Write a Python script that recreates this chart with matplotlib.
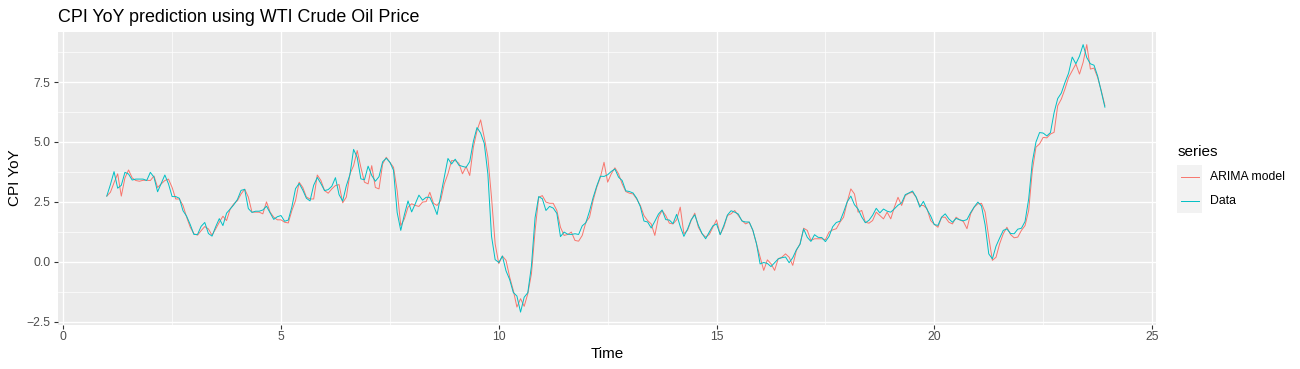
import numpy as np
import matplotlib
matplotlib.use("Agg")
import matplotlib.pyplot as plt
from matplotlib.lines import Line2D
from matplotlib.patches import Rectangle

# ---- data: monthly US CPI YoY (%), Jan 2000 .. Dec 2022, time axis 1..23.92 ----
cpi_data = [
    2.74, 3.22, 3.76, 3.07, 3.19, 3.73, 3.66, 3.41, 3.45, 3.45, 3.45, 3.39,
    3.73, 3.53, 2.92, 3.27, 3.62, 3.25, 2.72, 2.72, 2.65, 2.13, 1.90, 1.55,
    1.14, 1.14, 1.48, 1.64, 1.18, 1.07, 1.46, 1.80, 1.51, 2.03, 2.20, 2.38,
    2.60, 2.98, 3.02, 2.22, 2.06, 2.11, 2.11, 2.16, 2.32, 2.04, 1.77, 1.88,
    1.93, 1.69, 1.74, 2.29, 3.05, 3.27, 2.99, 2.65, 2.54, 3.19, 3.52, 3.26,
    2.97, 3.01, 3.15, 3.51, 2.80, 2.53, 3.17, 3.64, 4.69, 4.35, 3.46, 3.42,
    3.99, 3.60, 3.36, 3.55, 4.17, 4.32, 4.15, 3.82, 2.06, 1.31, 1.97, 2.54,
    2.08, 2.42, 2.78, 2.57, 2.69, 2.69, 2.36, 1.97, 2.76, 3.54, 4.31, 4.08,
    4.28, 4.03, 3.98, 3.94, 4.18, 5.02, 5.60, 5.37, 4.94, 3.66, 1.07, 0.09,
    -0.03, 0.24, -0.38, -0.74, -1.28, -1.43, -2.10, -1.48, -1.29, -0.18, 1.84, 2.72,
    2.63, 2.14, 2.31, 2.24, 2.02, 1.05, 1.24, 1.15, 1.14, 1.17, 1.14, 1.50,
    1.63, 2.11, 2.68, 3.16, 3.57, 3.56, 3.63, 3.77, 3.87, 3.53, 3.39, 2.96,
    2.93, 2.87, 2.65, 2.30, 1.70, 1.66, 1.41, 1.69, 1.99, 2.16, 1.76, 1.74,
    1.59, 1.98, 1.47, 1.06, 1.36, 1.75, 1.96, 1.52, 1.18, 0.96, 1.24, 1.50,
    1.58, 1.13, 1.51, 1.95, 2.13, 2.07, 1.99, 1.70, 1.66, 1.66, 1.32, 0.76,
    -0.09, -0.03, -0.07, -0.20, -0.04, 0.12, 0.17, 0.20, -0.04, 0.17, 0.50, 0.73,
    1.37, 1.02, 0.85, 1.13, 1.02, 1.01, 0.84, 1.06, 1.46, 1.64, 1.69, 2.07,
    2.50, 2.74, 2.38, 2.20, 1.87, 1.63, 1.73, 1.94, 2.23, 2.04, 2.20, 2.11,
    2.07, 2.21, 2.36, 2.46, 2.80, 2.87, 2.95, 2.70, 2.28, 2.52, 2.18, 1.91,
    1.55, 1.52, 1.86, 2.00, 1.79, 1.65, 1.81, 1.75, 1.71, 1.76, 2.05, 2.29,
    2.49, 2.33, 1.54, 0.33, 0.12, 0.65, 0.99, 1.31, 1.37, 1.18, 1.17, 1.36,
    1.40, 1.68, 2.62, 4.16, 4.99, 5.39, 5.37, 5.25, 5.39, 6.22, 6.81, 7.04,
    7.48, 7.87, 8.54, 8.26, 8.58, 9.06, 8.52, 8.26, 8.20, 7.75, 7.11, 6.45,
]

arima_fit = [
    2.74, 2.90, 3.30, 3.67, 2.74, 3.50, 3.83, 3.50, 3.39, 3.36, 3.40, 3.40,
    3.39, 3.58, 3.10, 3.25, 3.39, 3.45, 3.10, 2.62, 2.62, 2.35, 1.86, 1.44,
    1.17, 1.11, 1.30, 1.47, 1.37, 1.11, 1.37, 1.65, 1.90, 1.72, 2.20, 2.42,
    2.55, 2.83, 3.03, 2.70, 2.07, 2.07, 2.07, 2.00, 2.50, 2.07, 1.86, 1.75,
    1.75, 1.65, 1.62, 2.14, 2.55, 3.32, 3.10, 2.70, 2.62, 2.62, 3.62, 3.39,
    2.97, 2.86, 3.04, 3.18, 3.22, 2.46, 2.70, 3.67, 4.01, 4.64, 3.94, 3.32,
    3.25, 4.01, 3.10, 3.04, 4.08, 4.36, 4.15, 3.94, 2.97, 1.51, 1.79, 2.28,
    2.42, 2.35, 2.31, 2.49, 2.51, 2.90, 2.44, 2.35, 2.56, 3.25, 3.67, 4.22,
    4.22, 4.11, 3.67, 3.97, 3.60, 4.78, 5.47, 5.92, 5.19, 4.36, 2.69, 0.75,
    -0.08, 0.24, 0.06, -0.64, -1.19, -1.89, -1.54, -1.86, -1.33, -0.50, 1.30, 2.69,
    2.76, 2.49, 2.44, 2.44, 2.14, 1.44, 1.10, 1.14, 1.24, 0.89, 0.86, 1.10,
    1.65, 1.86, 2.56, 3.11, 3.53, 4.15, 3.32, 3.67, 3.92, 3.67, 3.25, 2.93,
    2.86, 2.83, 2.62, 2.35, 1.93, 1.72, 1.58, 1.10, 1.86, 2.14, 1.93, 1.61,
    1.58, 1.75, 2.28, 1.17, 1.31, 1.72, 2.03, 1.44, 1.17, 1.03, 1.14, 1.44,
    1.75, 1.14, 1.44, 1.93, 2.00, 2.14, 1.93, 1.72, 1.58, 1.65, 1.31, 0.75,
    0.19, -0.36, 0.08, -0.08, -0.36, 0.13, 0.19, 0.33, 0.19, -0.15, 0.47, 0.75,
    1.40, 1.31, 0.89, 0.96, 0.96, 0.96, 0.92, 1.24, 1.33, 1.38, 1.65, 1.86,
    2.49, 3.04, 2.83, 2.07, 2.14, 1.65, 1.61, 1.72, 2.07, 1.93, 1.79, 2.07,
    1.79, 2.28, 2.69, 2.35, 2.76, 2.86, 2.90, 2.69, 2.35, 2.35, 2.21, 1.72,
    1.56, 1.44, 1.86, 1.86, 1.65, 1.58, 1.86, 1.75, 1.68, 1.38, 2.00, 2.28,
    2.42, 2.44, 2.07, 1.03, 0.06, 0.19, 0.75, 1.17, 1.44, 1.14, 1.00, 1.03,
    1.31, 1.51, 2.14, 3.80, 4.78, 4.92, 5.19, 5.17, 5.33, 5.40, 6.51, 6.79,
    7.21, 7.69, 7.97, 8.25, 7.83, 8.32, 9.06, 8.04, 8.08, 7.69, 7.14, 6.51,
]

series_names = ["ARIMA model", "Data"]
series_colors = ["#F8766D", "#00BFC4"]
x_ticks = [0, 5, 10, 15, 20, 25]
y_ticks = [-2.5, 0.0, 2.5, 5.0, 7.5]
y_tick_labels = ["\u22122.5", "0.0", "2.5", "5.0", "7.5"]

time = 1 + np.arange(len(cpi_data)) / 12.0

W, H = 1300, 369
fig = plt.figure(figsize=(W / 100, H / 100), dpi=100)
plt.rcParams['font.family'] = ['Liberation Sans', 'DejaVu Sans']

def fx(x):
    return x / W

def fy(y):
    return 1 - y / H

left, right, top, bottom = 58, 1156, 32, 324.7
ax = fig.add_axes([fx(left), fy(bottom), (right - left) / W, (bottom - top) / H])
ax.set_facecolor("#EBEBEB")
for s in ax.spines.values():
    s.set_visible(False)

ax.set_xlim(-0.12, 25.09)
ax.set_ylim(-2.625, 9.586)

# grid
for v in [2.5, 7.5, 12.5, 17.5, 22.5]:
    ax.axvline(v, color="white", lw=0.5, zorder=0.5)
for v in [-1.25, 1.25, 3.75, 6.25, 8.75]:
    ax.axhline(v, color="white", lw=0.5, zorder=0.5)
for v in x_ticks:
    ax.axvline(v, color="white", lw=0.95, zorder=0.6)
for v in y_ticks:
    ax.axhline(v, color="white", lw=0.95, zorder=0.6)

ax.plot(time, arima_fit, color=series_colors[0], lw=0.7, zorder=2)
ax.plot(time, cpi_data, color=series_colors[1], lw=0.7, zorder=3)

ax.set_xticks(x_ticks)
ax.set_xticklabels([str(v) for v in x_ticks])
ax.set_yticks(y_ticks)
ax.set_yticklabels(y_tick_labels)
ax.tick_params(axis="both", which="major", length=3.0, width=0.8, color="#333333",
               labelsize=8.8, labelcolor="#4D4D4D")
ax.tick_params(axis="x", pad=1.5)
ax.tick_params(axis="y", pad=2.6)

# titles
fig.text(fx(58), fy(21.5), "CPI YoY prediction using WTI Crude Oil Price",
         fontsize=12.9, color="black", ha="left", va="baseline")
fig.text(fx(607), fy(357.5), "Time", fontsize=11, ha="center", va="baseline")
fig.text(fx(15), fy(178), "CPI YoY", fontsize=11, rotation=90, ha="center", va="center")

# legend
fig.text(fx(1178), fy(152), "series", fontsize=11, ha="left", va="center")
fig.patches.append(Rectangle((fx(1177), fy(213)), (1202 - 1177) / W, (213 - 165) / H,
                             transform=fig.transFigure, facecolor="#F2F2F2",
                             edgecolor="none", zorder=1))
for k, (name, col) in enumerate(zip(series_names, series_colors)):
    yy = 177 + 24 * k
    fig.lines.append(Line2D([fx(1181), fx(1199)], [fy(yy), fy(yy)],
                            transform=fig.transFigure, color=col, lw=0.7, zorder=2))
    fig.text(fx(1210), fy(yy), name, fontsize=8.8, ha="left", va="center")

fig.savefig("out.png", dpi=100)
